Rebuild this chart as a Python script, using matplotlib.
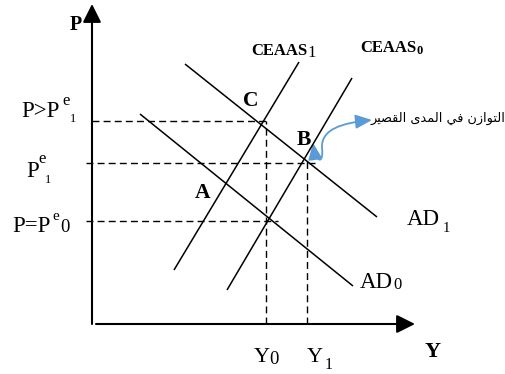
import matplotlib
matplotlib.use('Agg')
import matplotlib.pyplot as plt
from matplotlib.patches import FancyArrowPatch
from matplotlib.path import Path

plt.rcParams['font.family'] = ['Liberation Serif', 'DejaVu Serif']

# ---- Data (Y to the right, P upward; origin at the axes corner) ----
ad0_y, ad0_p = [48, 261], [210, 38]
ad1_y, ad1_p = [93, 285], [260, 107]
ceaas1_y, ceaas1_p = [82, 207], [54, 262]
ceaas0_y, ceaas0_p = [135, 260], [34, 246]

price_levels = [203.5, 161, 103.3]        # P>Pe1, Pe1, P=Pe0
price_starts = [0, -6, -6]
price_ends = [174, 223, 185.7]
output_levels = [174, 215.3]              # Y0, Y1
output_tops = [203.5, 163]

# "التوازن في المدى القصير" in presentation forms, visual (left-to-right) order
arabic_visual = ('\uFEAE\uFEF4\uFEBC\uFED8\uFEDF\uFE8D' + ' ' +
                 '\uFEEF\uFEAA\uFEE4\uFEDF\uFE8D' + ' ' +
                 '\uFEF2\uFED3' + ' ' +
                 '\uFEE5\uFEAF\uFE8D\uFEEE\uFE98\uFEDF\uFE8D')

fig = plt.figure(figsize=(5.05, 3.74), dpi=100)
ax = fig.add_axes([0, 0, 1, 1])
ax.set_xlim(-92, 413)
ax.set_ylim(-50, 324)
ax.axis('off')

lw = 1.1
for xs, ys in [(ad0_y, ad0_p), (ad1_y, ad1_p), (ceaas1_y, ceaas1_p), (ceaas0_y, ceaas0_p)]:
    ax.plot(xs, ys, color='black', lw=lw, solid_capstyle='butt')

dash = (0, (5, 3))
for p, x0, x1 in zip(price_levels, price_starts, price_ends):
    ax.plot([x0, x1], [p, p], color='black', lw=1.0, linestyle=dash)
for y, top in zip(output_levels, output_tops):
    ax.plot([y, y], [0, top], color='black', lw=1.0, linestyle=dash)

# axes arrows
for a, b in [((0, 0), (0, 320)), ((4, 0), (323, 0))]:
    ax.add_patch(FancyArrowPatch(a, b, arrowstyle='-|>,head_length=0.8,head_width=0.4',
                                 mutation_scale=14, lw=1.5, color='black',
                                 shrinkA=0, shrinkB=0))

def parts(x, y, main, size, weight='normal', extras=()):
    t = ax.text(x, y, main, fontsize=size, fontweight=weight, ha='left', va='baseline')
    for s, sz, wt, dx, dy in extras:
        ax.annotate(s, xy=(1, y), xycoords=(t, 'data'), xytext=(dx, dy),
                    textcoords='offset points', fontsize=sz, fontweight=wt,
                    ha='left', va='baseline')
    return t

parts(-22, 294, 'P', 14.5, 'bold')
parts(333, -32.7, 'Y', 16, 'bold')
parts(-71, 207.3, 'P>P', 16.5, extras=[('e', 12, 'normal', 2.5, 8.4), ('1', 9, 'normal', 7.5, -3.6)])
parts(-65.3, 147.3, 'P', 16.5, extras=[('e', 12, 'normal', -1.0, 9.6), ('1', 9, 'normal', 4.0, -4.8)])
parts(-80, 91.7, 'P=P', 16.5, extras=[('e', 11, 'normal', 1.5, 8.9), ('0', 13.5, 'normal', 6.8, 0)])
parts(150.7, 218, 'C', 15.5, 'bold')
parts(205, 179, 'B', 15.5, 'bold')
parts(103, 125.7, 'A', 15.5, 'bold')
parts(159.7, 269, 'CEAAS', 12, 'bold', extras=[('1', 12, 'normal', 0, -1.5)])
parts(268, 272.3, 'CEAAS', 12, 'bold', extras=[('0', 9, 'bold', 0, -1.5)])
parts(314.7, 99, 'AD', 16.5, extras=[('1', 10.5, 'normal', 2, -4.8)])
parts(268, 35.7, 'AD', 16.5, extras=[('0', 12, 'normal', 0.5, -0.7)])
parts(161.3, -38, 'Y', 16, extras=[('0', 13.5, 'normal', 0, -1.2)])
parts(214.7, -38, 'Y', 16, extras=[('1', 11.5, 'normal', 1, -5.2)])

ax.text(278, 206, arabic_visual, fontsize=9.3, family=['DejaVu Sans'],
        ha='left', va='center')

# curved double-headed arrow
verts = [(221, 181), (224, 160), (232, 160), (230, 176),
         (229, 195), (250, 201), (280, 204)]
codes = [Path.MOVETO, Path.CURVE4, Path.CURVE4, Path.CURVE4,
         Path.CURVE4, Path.CURVE4, Path.CURVE4]
ax.add_patch(FancyArrowPatch(path=Path(verts, codes),
                             arrowstyle='<|-|>,head_length=10,head_width=4.3',
                             mutation_scale=1, lw=1.3, color='#5B9BD5'))

fig.savefig('out.png', dpi=100)
